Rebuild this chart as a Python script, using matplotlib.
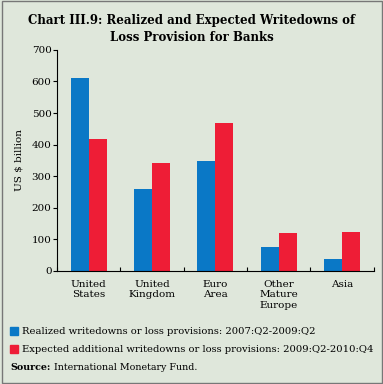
import matplotlib.pyplot as plt
import numpy as np
from matplotlib.patches import Rectangle

categories = ['United\nStates', 'United\nKingdom', 'Euro\nArea', 'Other\nMature\nEurope', 'Asia']
realized = [610, 258, 347, 74, 36]
expected = [418, 342, 467, 120, 123]
label_realized = 'Realized writedowns or loss provisions: 2007:Q2-2009:Q2'
label_expected = 'Expected additional writedowns or loss provisions: 2009:Q2-2010:Q4'

bg = '#dfe7db'
blue = '#0a78c6'
red = '#ee1d36'

plt.rcParams['font.family'] = ['DejaVu Serif']

fig = plt.figure(figsize=(3.83, 3.84), dpi=100, facecolor=bg)
ax = fig.add_axes([0.149, 0.295, 0.827, 0.575])
ax.set_facecolor(bg)

x = np.arange(len(categories))
w = 0.285
ax.bar(x - w / 2, realized, w, color=blue, label=label_realized)
ax.bar(x + w / 2, expected, w, color=red, label=label_expected)

ax.set_xlim(-0.5, 4.5)
ax.set_ylim(0, 700)
ax.set_yticks(range(0, 701, 100))
ax.set_xticks(np.arange(-0.5, 4.6, 1))
ax.set_xticklabels([])
ax.tick_params(axis='x', length=3, direction='in', width=0.8)
ax.tick_params(axis='y', length=3, labelsize=7.5, pad=1, width=0.8)
for i, c in enumerate(categories):
    ax.text(i, -28, c, ha='center', va='top', fontsize=7.5, linespacing=1.25)
ax.set_ylabel('US $ billion', fontsize=7.5, labelpad=6)
for s in ['top', 'right']:
    ax.spines[s].set_visible(False)

fig.text(0.5, 0.963, 'Chart III.9: Realized and Expected Writedowns of\nLoss Provision for Banks',
         ha='center', va='top', fontsize=8.5, fontweight='bold', linespacing=1.35)

# legend drawn manually to match position
for yy, col, lab in [(331, blue, label_realized), (349, red, label_expected)]:
    fig.patches.append(Rectangle((10 / 383, 1 - (yy + 4) / 384), 8 / 383, 8 / 384,
                                 transform=fig.transFigure, color=col))
    fig.text(22 / 383, 1 - yy / 384, lab, ha='left', va='center', fontsize=7.2)

src = fig.text(10 / 383, 1 - 368 / 384, 'Source:', ha='left', va='center',
               fontsize=6.8, fontweight='bold')
fig.canvas.draw()
bb = src.get_window_extent()
fig.text((bb.x1 + 4) / fig.bbox.width, 1 - 368 / 384, 'International Monetary Fund.',
         ha='left', va='center', fontsize=6.8)

fig.patches.append(Rectangle((0.004, 0.003), 0.994, 0.994, transform=fig.transFigure,
                             fill=False, edgecolor='#777777', lw=1))

fig.savefig('out.png', dpi=100, facecolor=bg)
